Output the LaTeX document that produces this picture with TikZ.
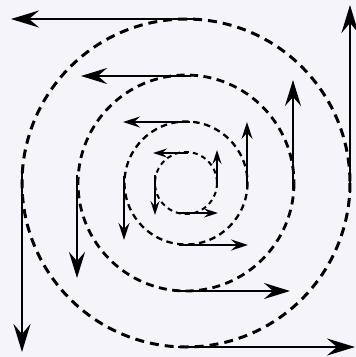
\documentclass[tikz,border=0pt]{standalone}
\usepackage{tikz}
\usetikzlibrary{arrows.meta}

\definecolor{paper}{RGB}{244,244,250}

\begin{document}
\begin{tikzpicture}[
    x=1pt,y=-1pt,
    ring/.style={dashed,line width=#1},
    ringA/.style={ring=2pt,dash pattern=on 5pt off 4pt},
    ringB/.style={ring=2.3pt,dash pattern=on 6.5pt off 4.5pt},
    ringC/.style={ring=2.8pt,dash pattern=on 8pt off 5.5pt},
    ringD/.style={ring=3pt,dash pattern=on 9pt off 6pt},
    vecA/.style={line width=1.7pt,-{Stealth[length=14pt,width=9pt,inset=5pt]}},
    vecB/.style={line width=2pt,-{Stealth[length=17pt,width=11pt,inset=6pt]}},
    vecC/.style={line width=2.6pt,-{Stealth[length=26pt,width=16pt,inset=9pt]}},
    vecD/.style={line width=2.8pt,-{Stealth[length=28pt,width=17pt,inset=10pt]}}
]
  \fill[paper] (0,0) rectangle (356,357);
  \useasboundingbox (0,0) rectangle (356,357);
  \coordinate (c) at (186,183);

  % dashed circles
  \draw[ringA] (c) circle[radius=31];
  \draw[ringB] (c) circle[radius=61.5];
  \draw[ringC] (c) circle[radius=108];
  \draw[ringD] (c) circle[radius=164];

  % innermost velocities
  \draw[vecA] (188,153) -- (153,153);
  \draw[vecA] (155,175) -- (155,215);
  \draw[vecA] (179,213) -- (218,213);
  \draw[vecA] (217,185) -- (217,150);

  % second ring
  \draw[vecB] (190,122) -- (123,122);
  \draw[vecB] (124,176) -- (124,240);
  \draw[vecB] (179,245) -- (248,245);
  \draw[vecB] (247,187) -- (247,122);

  % third ring
  \draw[vecC] (191,76) -- (81,76);
  \draw[vecC] (77,175) -- (77,278);
  \draw[vecC] (180,291) -- (290,291);
  \draw[vecC] (293,190) -- (293,80);

  % outer ring
  \draw[vecD] (195,19) -- (11,19);
  \draw[vecD] (22,168) -- (22,352);
  \draw[vecD] (178,347) -- (355,347);
  \draw[vecD] (350,193) -- (350,5);
\end{tikzpicture}
\end{document}
